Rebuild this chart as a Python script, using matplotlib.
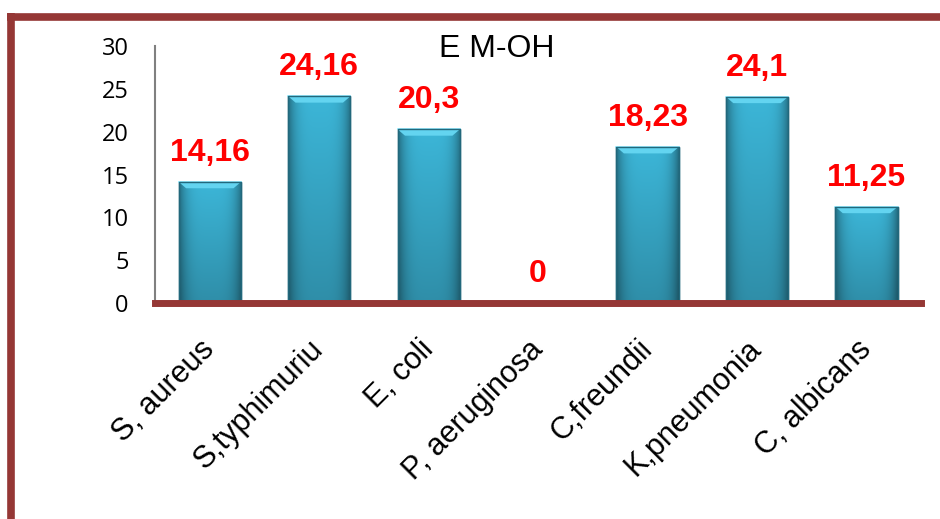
import numpy as np
import matplotlib.pyplot as plt
from matplotlib.lines import Line2D

categories = ["S, aureus", "S,typhimuriu", "E, coli", "P, aeruginosa",
              "C,freundii", "K,pneumonia", "C, albicans"]
values = [14.16, 24.16, 20.3, 0, 18.23, 24.1, 11.25]
labels = ["14,16", "24,16", "20,3", "0", "18,23", "24,1", "11,25"]
yticks = [0, 5, 10, 15, 20, 25, 30]
title = "E M-OH"

frame_color = "#953735"
bar_face = np.array([0x3C, 0xB6, 0xD8]) / 255.0
bar_edge = "#22687C"

fig = plt.figure(figsize=(9.4, 5.19), dpi=100)
ax = fig.add_axes([0.165, 0.416, 0.815, 0.495])

x = np.arange(len(categories))
bars = ax.bar(x, values, width=0.57, color=bar_face, edgecolor=bar_edge,
              linewidth=1.0, zorder=2)

# shaded bevel look on each bar: 2-D gradient clipped to the bar
gx = np.linspace(0, 1, 128)
gy = np.linspace(0, 1, 128)[:, None]          # 0 at top row, 1 at bottom
side = 1 - 0.40 * (np.abs(gx - 0.5) * 2) ** 4
vert = 1 - 0.22 * gy
shade = side[None, :] * vert
img = bar_face[None, None, :] * shade[:, :, None]
for b in bars:
    h = b.get_height()
    if h <= 0:
        continue
    x0 = b.get_x()
    w = b.get_width()
    im = ax.imshow(img, extent=[x0, x0 + w, 0, h], aspect="auto",
                   zorder=2.5, interpolation="bilinear")
    im.set_clip_path(b)
    # light top bevel
    ax.fill([x0, x0 + w, x0 + w * 0.88, x0 + w * 0.12],
            [h, h, h - 0.75, h - 0.75], color="#63D4F0", zorder=3, lw=0)
    ax.plot([x0, x0 + w], [h, h], color="#8FEAFF", lw=1.2, zorder=3.1)
    ax.plot([x0, x0, x0 + w, x0 + w], [0, h, h, 0], color=bar_edge,
            lw=1.0, zorder=3.2)

for xi, v, lab in zip(x, values, labels):
    ax.annotate(lab, (xi, v), xytext=(0, 15), textcoords="offset points",
                ha="center", va="baseline", color="#FF0000",
                fontsize=23, fontweight="bold", family="Liberation Sans")

ax.set_xlim(-0.5, len(categories) - 0.5)
ax.set_ylim(0, 30)
ax.set_yticks(yticks)
ax.set_yticklabels([str(t) for t in yticks], fontsize=17, family="Open Sans")
ax.tick_params(axis="y", length=0, pad=19)
ax.tick_params(axis="x", length=0, pad=30)
ax.set_xticks(x)
ax.set_xticklabels(categories, rotation=45, ha="right", va="center",
                   rotation_mode="anchor", fontsize=22,
                   family="Liberation Sans")

for s in ["top", "right"]:
    ax.spines[s].set_visible(False)
ax.spines["left"].set_color("#808080")
ax.spines["left"].set_linewidth(1.5)
ax.spines["bottom"].set_color(frame_color)
ax.spines["bottom"].set_linewidth(5)
ax.spines["bottom"].set_zorder(4)

ax.text(0.446, 0.988, title, transform=ax.transAxes, ha="center",
        va="center", fontsize=23, family="Liberation Sans")

# outer frame lines (left and top)
fig.add_artist(Line2D([11 / 940, 11 / 940], [1 - 13 / 519, 0], color=frame_color,
                      lw=5.5, transform=fig.transFigure, solid_capstyle="butt"))
fig.add_artist(Line2D([7 / 940, 1.0], [1 - 17 / 519, 1 - 17 / 519],
                      color=frame_color, lw=5.5, transform=fig.transFigure,
                      solid_capstyle="butt"))

fig.savefig("out.png", dpi=100)
